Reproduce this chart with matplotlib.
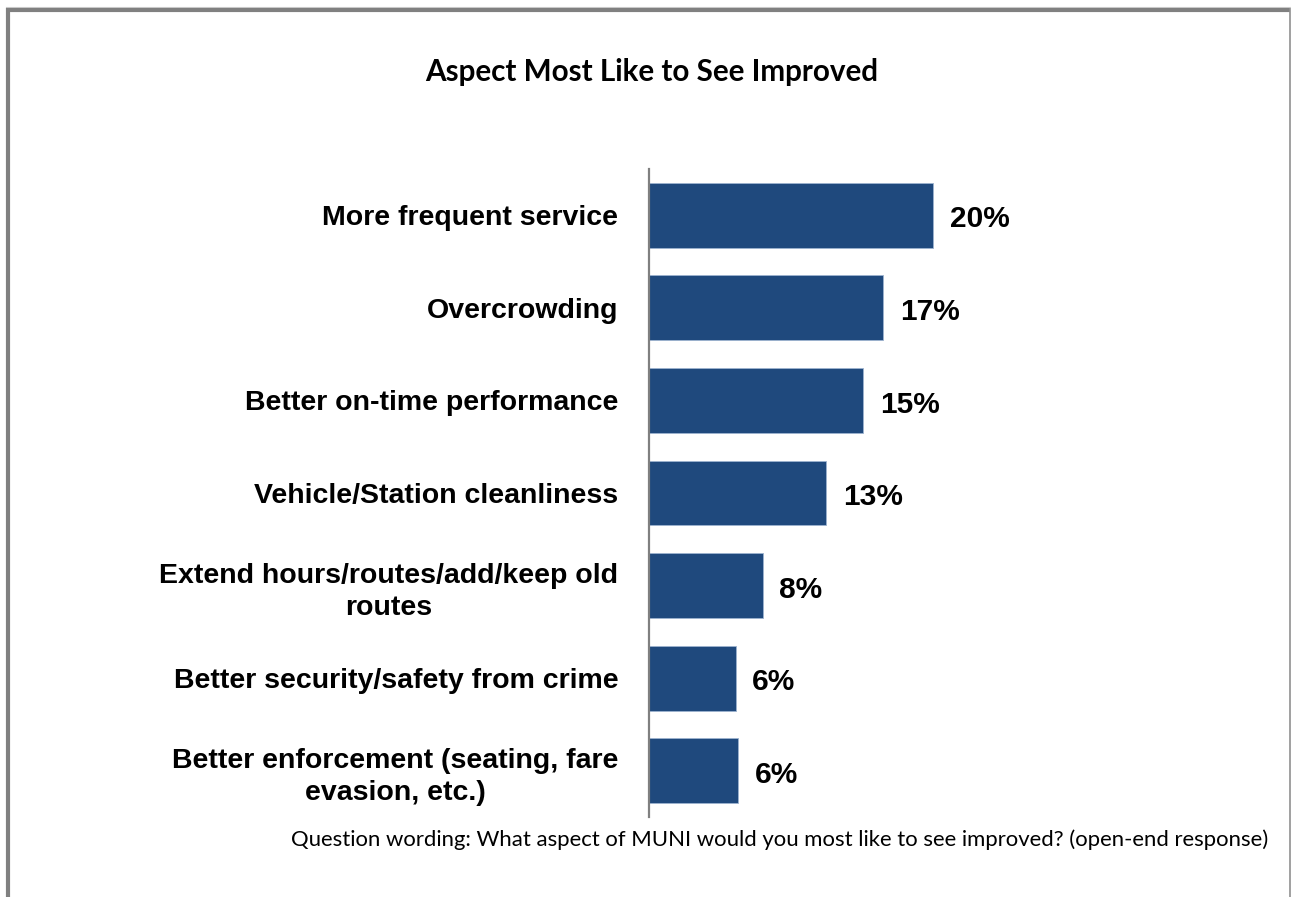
import matplotlib
matplotlib.use("Agg")
import matplotlib.pyplot as plt
from matplotlib.lines import Line2D

categories = [
    "More frequent service",
    "Overcrowding",
    "Better on-time performance",
    "Vehicle/Station cleanliness",
    "Extend hours/routes/add/keep old\nroutes",
    "Better security/safety from crime",
    "Better enforcement (seating, fare\nevasion, etc.)",
]
values = [20.0, 16.5, 15.1, 12.5, 8.0, 6.1, 6.3]
value_labels = ["20%", "17%", "15%", "13%", "8%", "6%", "6%"]

title = "Aspect Most Like to See Improved"
footnote = "Question wording: What aspect of MUNI would you most like to see improved? (open-end response)"

W, H = 1291, 897
fig = plt.figure(figsize=(W / 100, H / 100), dpi=100)
fig.patch.set_facecolor("white")

ax = fig.add_axes([649 / W, 1 - 817 / H, (1075 - 649) / W, (817 - 169) / H])
y = list(range(len(categories)))
bars = ax.barh(y, values, height=0.7, color="#1F497D", edgecolor="#9DB3CF", linewidth=0.6)
ax.set_xlim(0, 30)
ax.set_ylim(len(categories) - 0.5, -0.5)
ax.set_yticks(y)
ax.set_yticklabels(categories, fontsize=20.5, fontweight="bold", family="Liberation Sans",
                   ha="right", multialignment="center", linespacing=1.32)
ax.tick_params(axis="y", length=0, pad=22)
ax.set_xticks([])
for s in ["top", "right", "bottom"]:
    ax.spines[s].set_visible(False)
ax.spines["left"].set_color("#808080")
ax.spines["left"].set_linewidth(1.6)
for i, (v, lab) in enumerate(zip(values, value_labels)):
    ax.annotate(lab, xy=(v, i), xytext=(12, -3), textcoords="offset points",
                ha="left", va="center", fontsize=21.5, fontweight="bold",
                family="Liberation Sans", color="black")

fig.text(652 / W, 1 - 72 / H, title, ha="center", va="center", fontsize=21.3,
         fontweight="bold", family="Lato")
fig.text(1268 / W, 1 - 840 / H, footnote, ha="right", va="center", fontsize=15.9,
         family="Lato")

# frame border
fig.add_artist(Line2D([6 / W, 1290 / W], [1 - 7.5 / H, 1 - 7.5 / H], color="#D0D0D0", lw=0.8,
                      transform=fig.transFigure))
fig.add_artist(Line2D([6 / W, 1290 / W], [1 - 10 / H, 1 - 10 / H], color="#808080", lw=3,
                      transform=fig.transFigure, solid_capstyle="butt"))
fig.add_artist(Line2D([8 / W, 8 / W], [1 - 8 / H, 0], color="#808080", lw=3,
                      transform=fig.transFigure, solid_capstyle="butt"))
fig.add_artist(Line2D([1290 / W, 1290 / W], [1 - 8 / H, 0], color="#909090", lw=1.2,
                      transform=fig.transFigure, solid_capstyle="butt"))

fig.savefig("out.png", dpi=100, facecolor="white")
